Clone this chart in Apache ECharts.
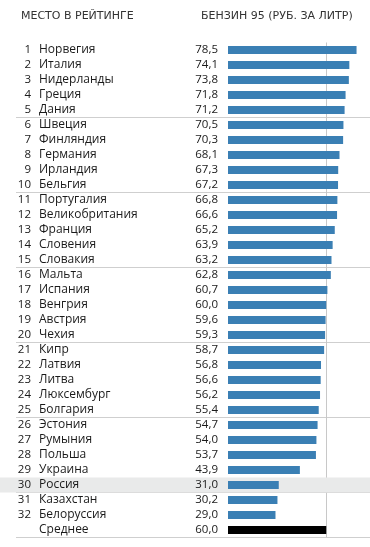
<!DOCTYPE html>
<html>
<head>
<meta charset="utf-8">
<script src="https://cdn.jsdelivr.net/npm/echarts@6/dist/echarts.min.js"></script>
<style>
html,body{margin:0;padding:0;background:#fff;}
#chart{width:370px;height:547px;}
</style>
</head>
<body>
<div id="chart"></div>
<script>
const ranks = ['1','2','3','4','5','6','7','8','9','10','11','12','13','14','15','16','17','18','19','20','21','22','23','24','25','26','27','28','29','30','31','32',''];
const countries = ['Норвегия','Италия','Нидерланды','Греция','Дания','Швеция','Финляндия','Германия','Ирландия','Бельгия','Португалия','Великобритания','Франция','Словения','Словакия','Мальта','Испания','Венгрия','Австрия','Чехия','Кипр','Латвия','Литва','Люксембург','Болгария','Эстония','Румыния','Польша','Украина','Россия','Казахстан','Белоруссия','Среднее'];
const prices = [78.5,74.1,73.8,71.8,71.2,70.5,70.3,68.1,67.3,67.2,66.8,66.6,65.2,63.9,63.2,62.8,60.7,60.0,59.6,59.3,58.7,56.8,56.6,56.2,55.4,54.7,54.0,53.7,43.9,31.0,30.2,29.0,60.0];
const highlightCountry = 'Россия';
const averageLabel = 'Среднее';
const headers = ['МЕСТО В РЕЙТИНГЕ', 'БЕНЗИН 95 (РУБ. ЗА ЛИТР)'];

const FONT = '"Open Sans", "DejaVu Sans", sans-serif';
const HFONT = '"DejaVu Sans", sans-serif';
const TOP = 42.5, H = 495;
const BLUE = '#3a7fb4';

const chart = echarts.init(document.getElementById('chart'), null, {renderer: 'canvas'});
const hiddenCat = (gridIndex, data) => ({
  type: 'category', gridIndex, data, inverse: true,
  axisLine: {show: false}, axisTick: {show: false}, axisLabel: {show: false}
});
const hiddenVal = (gridIndex, max) => ({
  type: 'value', gridIndex, min: 0, max,
  axisLine: {show: false}, axisTick: {show: false}, axisLabel: {show: false}, splitLine: {show: false}
});

chart.setOption({
  animation: false,
  backgroundColor: '#fff',
  textStyle: {fontFamily: FONT},
  title: [
    {text: headers[0], left: 16, top: 6, textStyle: {fontSize: 11, fontWeight: 'normal', color: '#333', fontFamily: HFONT}},
    {text: headers[1], left: 196, top: 6, textStyle: {fontSize: 11, fontWeight: 'normal', color: '#333', fontFamily: HFONT}}
  ],
  grid: [
    {left: 0, right: 0, top: TOP, height: H},
    {left: 16, right: 0, top: TOP, height: H},
    {left: 228, right: 11, top: TOP, height: H}
  ],
  xAxis: [
    hiddenVal(0, 1),
    hiddenVal(1, 1),
    {type: 'value', gridIndex: 2, min: 0, max: 80, interval: 60,
     axisLine: {show: false}, axisTick: {show: false}, axisLabel: {show: false},
     splitLine: {show: true, lineStyle: {color: ['rgba(0,0,0,0)', '#c8c8c8', 'rgba(0,0,0,0)'], width: 1}}}
  ],
  yAxis: [
    hiddenCat(0, countries),
    Object.assign(hiddenCat(1, countries), {
      splitLine: {show: true, interval: (i) => i > 0 && i % 5 === 0 && i <= 30,
                  lineStyle: {color: '#cfcfcf', width: 1}}
    }),
    {type: 'category', gridIndex: 2, data: countries, inverse: true, z: 10,
     axisLine: {show: false}, axisTick: {show: false},
     axisLabel: {align: 'left', margin: 189, fontSize: 12, color: '#1a1a1a', fontFamily: FONT, interval: 0}},
    {type: 'category', gridIndex: 2, data: ranks, inverse: true, position: 'left', z: 10,
     axisLine: {show: false}, axisTick: {show: false},
     axisLabel: {align: 'right', margin: 197, fontSize: 11.5, color: '#1a1a1a', fontFamily: FONT, interval: 0}}
  ],
  series: [
    {type: 'bar', xAxisIndex: 0, yAxisIndex: 0, silent: true, z: 0,
     barCategoryGap: '0%',
     data: countries.map(c => c === highlightCountry ? 1 : '-'),
     itemStyle: {color: '#e9eaea'}},
    {type: 'bar', xAxisIndex: 1, yAxisIndex: 1, silent: true,
     data: countries.map(() => '-')},
    {type: 'bar', xAxisIndex: 2, yAxisIndex: 2, silent: true, z: 5,
     barWidth: 8,
     data: prices.map((v, i) => countries[i] === averageLabel
        ? {value: v, itemStyle: {color: '#000'}}
        : {value: v}),
     itemStyle: {color: BLUE},
     label: {show: true, position: 'left', distance: 10, fontSize: 11.5, color: '#1a1a1a', fontFamily: FONT,
             formatter: p => p.value.toFixed(1).replace('.', ',')}}
  ]
});
</script>
</body>
</html>
